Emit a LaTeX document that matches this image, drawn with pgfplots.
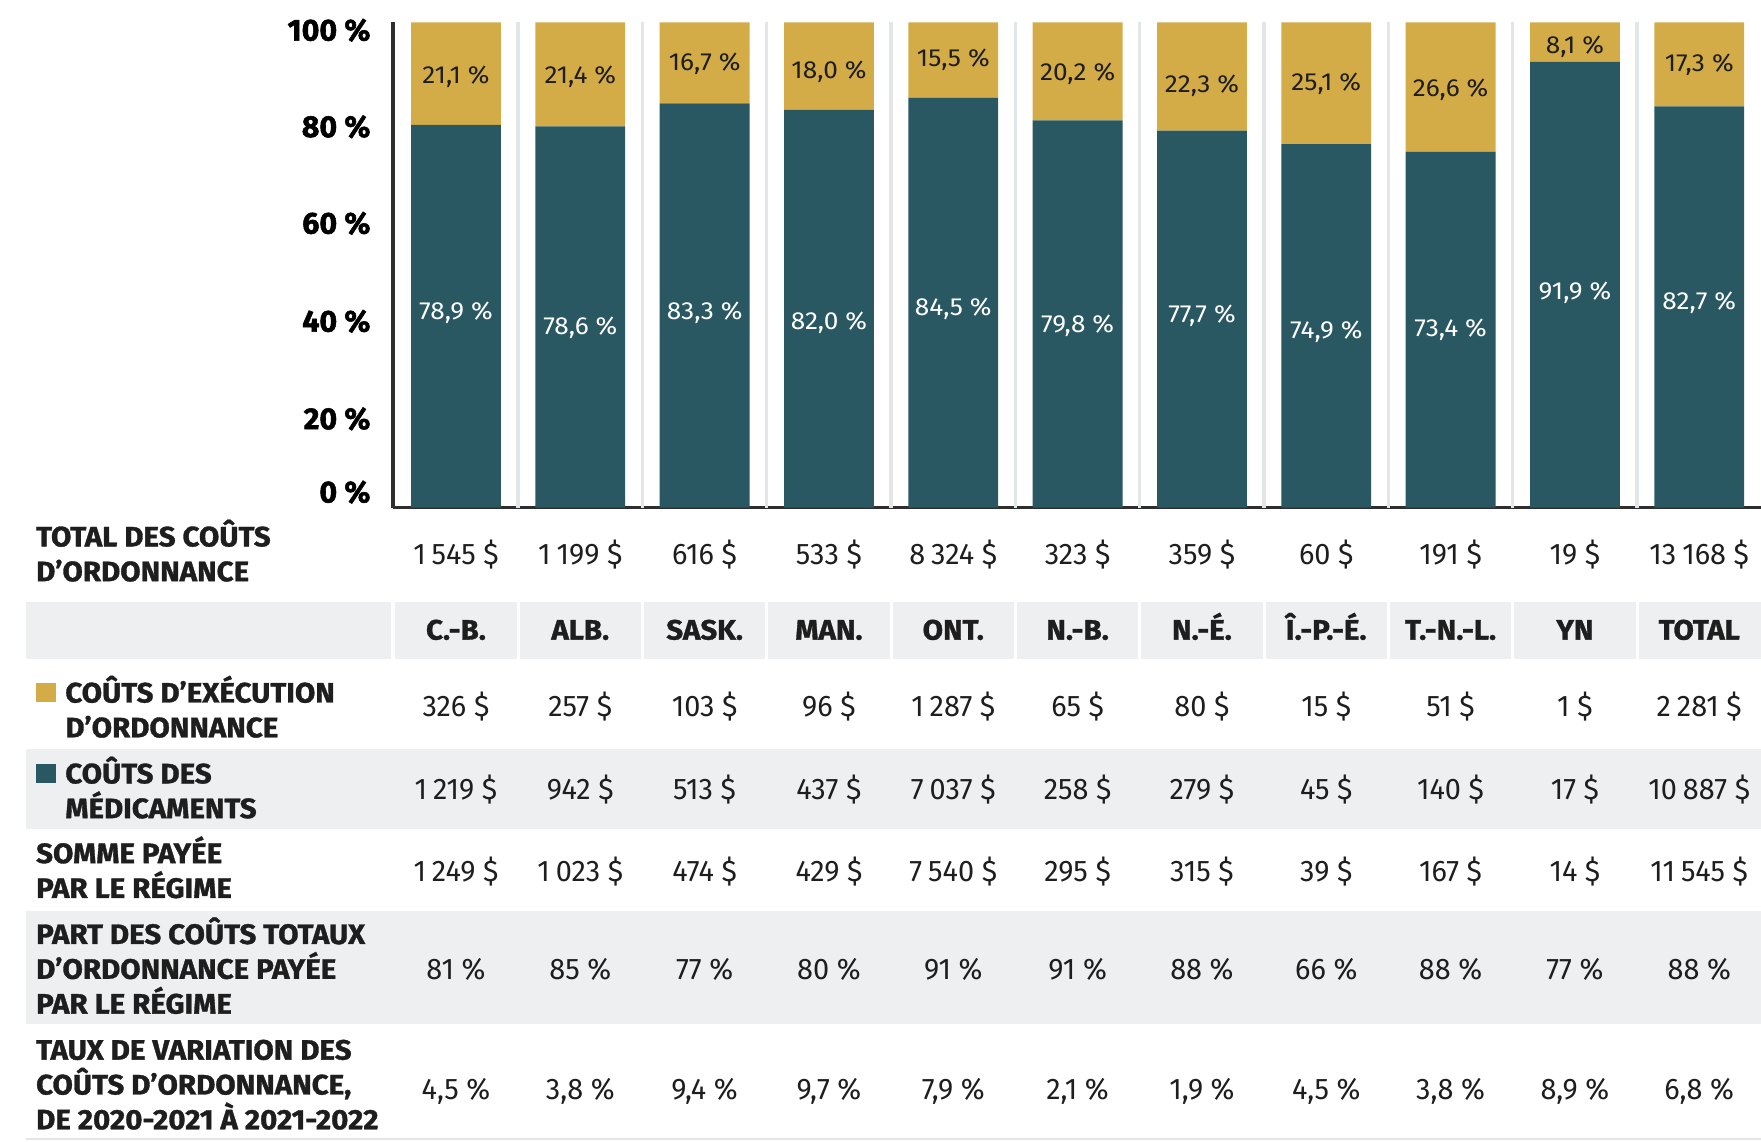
\documentclass[border=0pt]{standalone}
\usepackage{fontspec}
\setmainfont{Fira Sans}
\newfontfamily\valfont[FakeStretch=0.97]{Fira Sans}
\newfontfamily\barfont[FakeStretch=1.06]{Fira Sans}
\newfontfamily\labfont[FakeBold=1.2, FakeStretch=1.05]{Fira Sans}
\newfontfamily\heavyfont[FakeBold=1.8]{Fira Sans}
\usepackage{pgfplots}
\usepackage{pgfplotstable}
\pgfplotsset{compat=1.18}

\definecolor{drugteal}{HTML}{295862}
\definecolor{feegold}{HTML}{D4AC47}
\definecolor{band}{HTML}{EEEFF1}
\definecolor{sepgrey}{HTML}{E3E6E9}
\definecolor{axisgrey}{HTML}{2E2E2E}
\definecolor{txt}{HTML}{1E1E1E}

\newcommand\ts{\hspace{0.2em}}
\newcommand\labf{\labfont\bfseries\fontsize{25}{31}\selectfont}
\newcommand\valf{\valfont\fontsize{26.5}{31}\selectfont}
\newcommand\barf{\barfont\fontsize{22}{24}\selectfont}
\newcommand\tickf{\heavyfont\bfseries\fontsize{27}{30}\selectfont}

% part of each bar: drug costs / dispensing fees (%)
\pgfplotstableread{
x med exe
0 78.9 21.1
1 78.6 21.4
2 83.3 16.7
3 82.0 18.0
4 84.5 15.5
5 79.8 20.2
6 77.7 22.3
7 74.9 25.1
8 73.4 26.6
9 91.9 8.1
10 82.7 17.3
}\shares

% one row of the table, #1 = baseline
\newcommand\valrow[2]{%
  \foreach \v [count=\i from 0] in {#2}
    \node[anchor=base, inner sep=0pt, font=\valf, text=txt] at ({406+110.7*\i}, #1) {\v};}

\begin{document}
\begin{tikzpicture}
\useasboundingbox (0,0) rectangle (1568pt,-1016pt);

\begin{axis}[
  at={(350pt,-452pt)}, anchor=south west,
  scale only axis, x=110.7pt, y=4.32pt,
  xmin=-0.506, xmax=10.5, ymin=0, ymax=100,
  axis x line*=bottom, axis y line*=left,
  axis line style={draw=axisgrey, line width=3pt, -},
  ybar stacked, bar width=80pt,
  xtick=\empty,
  ytick={3.2,18.3,38.4,58.6,78.5,98.4},
  yticklabels={0 \%,20 \%,40 \%,60 \%,80 \%,100 \%},
  major tick length=0pt,
  yticklabel style={font=\tickf, text=black, inner sep=0pt, xshift=-20pt},
  clip=false,
]
\pgfplotsinvokeforeach{0.5,1.5,2.5,3.5,4.5,5.5,6.5,7.5,8.5,9.5}{
  \draw[sepgrey, line width=3pt] (axis cs:#1,0) -- (axis cs:#1,100);
}
\addplot[fill=drugteal, draw=none] table[x=x, y=med] {\shares};
\addplot[fill=feegold, draw=none] table[x=x, y=exe] {\shares};
\end{axis}

\begin{scope}[x=1pt, y=-1pt]
% bar labels
\foreach \i/\yy/\lbl in {0/67/{21,1~\%}, 1/67/{21,4~\%}, 2/55/{16,7~\%}, 3/62/{18,0~\%},
    4/52/{15,5~\%}, 5/64/{20,2~\%}, 6/75/{22,3~\%}, 7/73/{25,1~\%}, 8/78/{26,6~\%},
    9/40/{8,1~\%}, 10/56/{17,3~\%}}
  \node[anchor=base, inner sep=0pt, font=\barf, text=txt] at ({406+110.7*\i}, \yy+7.5) {\lbl};
\foreach \i/\yy/\lbl in {0/277/{78,9~\%}, 1/290/{78,6~\%}, 2/277/{83,3~\%}, 3/286/{82,0~\%},
    4/273/{84,5~\%}, 5/289/{79,8~\%}, 6/280/{77,7~\%}, 7/294/{74,9~\%}, 8/292/{73,4~\%},
    9/259/{91,9~\%}, 10/268/{82,7~\%}}
  \node[anchor=base, inner sep=0pt, font=\barf, text=white] at ({406+110.7*\i}, \yy+7.5) {\lbl};

% table backgrounds
\fill[band] (23,536) rectangle (348,587);
\foreach \i in {0,...,9}
  \fill[band] ({406+110.7*\i-54},536) rectangle ({406+110.7*\i+54},587);
\fill[band] ({406+110.7*10-54},536) rectangle (1568,587);
\fill[band] (23,667) rectangle (1568,738);
\fill[band] (23,811) rectangle (1568,912);
\draw[sepgrey, line width=1.5pt] (23,1014) -- (1568,1014);

% legend squares
\fill[feegold] (32,608) rectangle (50,625);
\fill[drugteal] (32,680) rectangle (50,697);

% row labels
\begin{scope}[every node/.style={anchor=base west, inner sep=0pt, font=\labf, text=txt}]
\node at (32,486.5) {TOTAL DES COÛTS};
\node at (32,517.5) {D’ORDONNANCE};
\node at (58,625.5) {COÛTS D’EXÉCUTION};
\node at (58,656.5) {D’ORDONNANCE};
\node at (58,697.5) {COÛTS DES};
\node at (58,728.5) {MÉDICAMENTS};
\node at (32,768.5) {SOMME PAYÉE};
\node at (32,799.5) {PAR LE RÉGIME};
\node at (32,840.5) {PART DES COÛTS TOTAUX};
\node at (32,871.5) {D’ORDONNANCE PAYÉE};
\node at (32,902.5) {PAR LE RÉGIME};
\node at (32,943.5) {TAUX DE VARIATION DES};
\node at (32,974.5) {COÛTS D’ORDONNANCE,};
\node at (32,1005.5) {DE 2020-2021 À 2021-2022};
\end{scope}

% column headers
\foreach \h [count=\i from 0] in {C.-B., ALB., SASK., MAN., ONT., N.-B., N.-É., Î.-P.-É., T.-N.-L., YN, TOTAL}
  \node[anchor=base, inner sep=0pt, font=\labf, text=txt] at ({406+110.7*\i}, 569.5) {\h};

% values
\valrow{503}{1\ts545~\$, 1\ts199~\$, 616~\$, 533~\$, 8\ts324~\$, 323~\$, 359~\$, 60~\$, 191~\$, 19~\$, 13\ts168~\$}
\valrow{638}{326~\$, 257~\$, 103~\$, 96~\$, 1\ts287~\$, 65~\$, 80~\$, 15~\$, 51~\$, 1~\$, 2\ts281~\$}
\valrow{712}{1\ts219~\$, 942~\$, 513~\$, 437~\$, 7\ts037~\$, 258~\$, 279~\$, 45~\$, 140~\$, 17~\$, 10\ts887~\$}
\valrow{785}{1\ts249~\$, 1\ts023~\$, 474~\$, 429~\$, 7\ts540~\$, 295~\$, 315~\$, 39~\$, 167~\$, 14~\$, 11\ts545~\$}
\valrow{872}{81~\%, 85~\%, 77~\%, 80~\%, 91~\%, 91~\%, 88~\%, 66~\%, 88~\%, 77~\%, 88~\%}
\valrow{979}{{4,5~\%}, {3,8~\%}, {9,4~\%}, {9,7~\%}, {7,9~\%}, {2,1~\%}, {1,9~\%}, {4,5~\%}, {3,8~\%}, {8,9~\%}, {6,8~\%}}
\end{scope}
\end{tikzpicture}
\end{document}
